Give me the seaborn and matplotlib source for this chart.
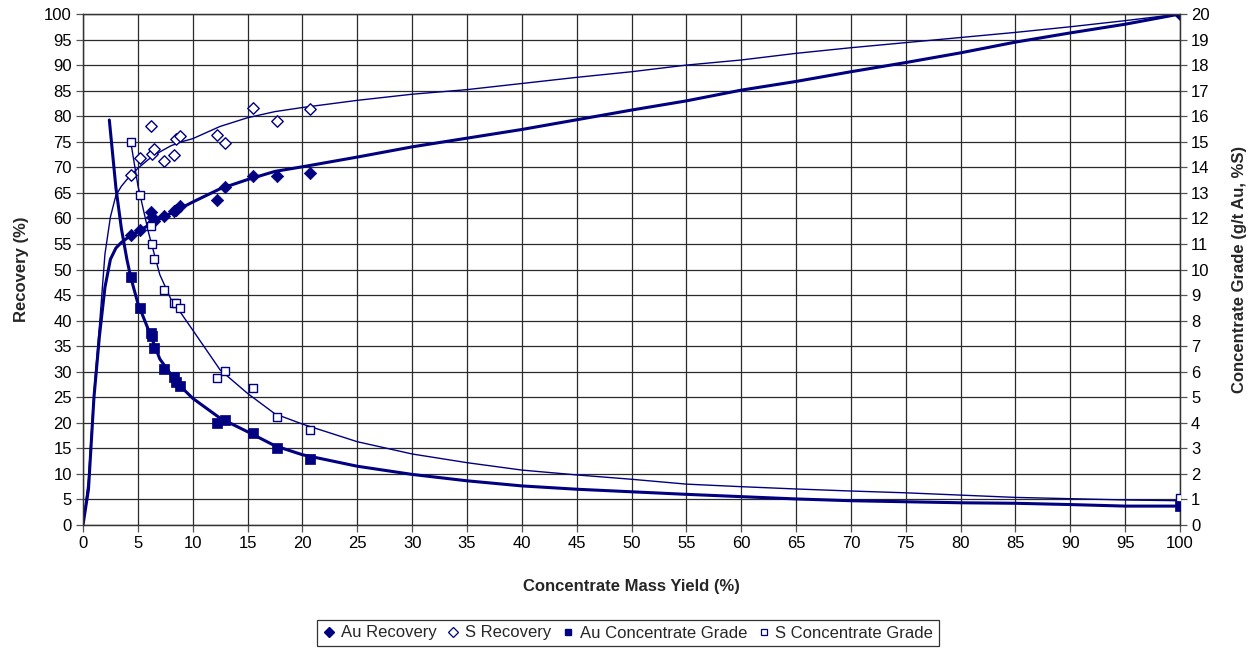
import matplotlib
matplotlib.use("Agg")
import matplotlib.pyplot as plt
import seaborn as sns
import pandas as pd
from matplotlib.lines import Line2D

# test data (concentrate mass yield, %)
yield_pts = [4.35, 5.2, 6.2, 6.3, 6.5, 7.4, 8.3, 8.5, 8.85, 12.2, 12.9, 15.5, 17.7, 20.7, 100]
au_recovery = [56.7, 57.7, 61.2, 60.2, 59.5, 60.5, 61.4, 61.7, 62.4, 63.6, 66.1, 68.2, 68.2, 68.9, 100]
s_recovery = [68.4, 71.9, 78.1, 72.6, 73.5, 71.2, 72.5, 75.5, 76.1, 76.3, 74.7, 81.7, 79.1, 81.4, 100]
au_grade = [9.7, 8.5, 7.5, 7.4, 6.94, 6.12, 5.78, 5.6, 5.45, 4.0, 4.1, 3.6, 3.0, 2.6, 0.74]
s_grade = [15.0, 12.9, 11.7, 11.0, 10.4, 9.2, 8.7, 8.68, 8.5, 5.76, 6.02, 5.36, 4.24, 3.72, 1.06]

# fitted curves
rec_x = [0, 0.5, 1, 1.5, 2, 2.5, 3, 3.5, 4, 4.5, 5, 6, 7, 8, 9, 10, 12.5, 15, 17.5, 20,
         25, 30, 35, 40, 45, 50, 55, 60, 65, 70, 75, 80, 85, 90, 95, 100]
au_rec_fit = [0, 7, 25, 37, 46.5, 52, 54.2, 55.3, 56.1, 56.8, 57.4, 58.7, 59.9, 61.0, 62.1, 63.2,
              65.8, 67.6, 69.2, 70.1, 72.0, 74.0, 75.7, 77.4, 79.3, 81.2, 83.0, 85.1, 86.8, 88.7,
              90.5, 92.4, 94.5, 96.3, 98.0, 100]
s_rec_fit = [0, 9, 26, 39, 53, 60.3, 64.5, 66.3, 67.6, 68.7, 69.8, 71.6, 73.0, 74.2, 75.0, 75.6,
             78.0, 79.7, 80.9, 81.7, 83.1, 84.3, 85.2, 86.4, 87.6, 88.7, 90.0, 91.0, 92.3, 93.4,
             94.4, 95.4, 96.4, 97.5, 98.7, 100]

au_grade_x = [2.4, 3, 3.5, 4, 4.35, 5, 6, 7, 8, 9, 10, 12.5, 15, 17.5, 20, 25, 30, 35, 40, 45,
              50, 55, 60, 65, 70, 75, 80, 85, 90, 95, 100]
au_grade_fit = [15.85, 13.2, 11.6, 10.4, 9.7, 8.68, 7.6, 6.5, 5.9, 5.38, 4.96, 4.18, 3.65, 3.1,
                2.75, 2.3, 1.98, 1.73, 1.53, 1.4, 1.3, 1.2, 1.11, 1.02, 0.95, 0.91, 0.87, 0.85,
                0.8, 0.74, 0.74]
s_grade_x = [4.35, 5, 6, 7, 8, 9, 10, 12.5, 15, 17.5, 20, 25, 30, 35, 40, 45, 50, 55, 60, 65,
             70, 75, 80, 85, 90, 95, 100]
s_grade_fit = [15.0, 13.3, 11.4, 9.8, 8.85, 8.25, 7.63, 6.07, 5.15, 4.35, 3.95, 3.26, 2.78, 2.44,
               2.15, 1.96, 1.79, 1.6, 1.5, 1.41, 1.33, 1.26, 1.17, 1.08, 1.03, 0.98, 0.95]

NAVY = "#000080"

sns.set_theme(style="ticks")
plt.rcParams["font.family"] = ["Liberation Sans", "DejaVu Sans"]

fig = plt.figure(figsize=(12.52, 6.48), dpi=100)
ax = fig.add_axes([83 / 1252, 1 - 525 / 648, (1180 - 83) / 1252, (525 - 14) / 648])
ax2 = ax.twinx()

pts = pd.DataFrame({"yield": yield_pts, "au_rec": au_recovery, "s_rec": s_recovery,
                    "au_grade": au_grade, "s_grade": s_grade})
rec = pd.DataFrame({"x": rec_x, "au": au_rec_fit, "s": s_rec_fit})
aug = pd.DataFrame({"x": au_grade_x, "y": au_grade_fit})
sg = pd.DataFrame({"x": s_grade_x, "y": s_grade_fit})

# recovery (left axis)
sns.lineplot(data=rec, x="x", y="s", ax=ax, color=NAVY, lw=1.0, sort=False, estimator=None)
sns.lineplot(data=rec, x="x", y="au", ax=ax, color=NAVY, lw=2.2, sort=False, estimator=None)
sns.scatterplot(data=pts, x="yield", y="s_rec", ax=ax, marker="D", s=34, color="white",
                edgecolor=NAVY, linewidth=1.0, zorder=5)
sns.scatterplot(data=pts, x="yield", y="au_rec", ax=ax, marker="D", s=40, color=NAVY,
                edgecolor=NAVY, linewidth=0.5, zorder=5)

# grade (right axis)
sns.lineplot(data=sg, x="x", y="y", ax=ax2, color=NAVY, lw=1.0, sort=False, estimator=None)
sns.lineplot(data=aug, x="x", y="y", ax=ax2, color=NAVY, lw=2.2, sort=False, estimator=None)
sns.scatterplot(data=pts, x="yield", y="s_grade", ax=ax2, marker="s", s=36, color="white",
                edgecolor=NAVY, linewidth=1.0, zorder=5)
sns.scatterplot(data=pts, x="yield", y="au_grade", ax=ax2, marker="s", s=42, color=NAVY,
                edgecolor=NAVY, linewidth=0.5, zorder=5)

ax.set_xlim(0, 100)
ax.set_ylim(0, 100)
ax2.set_ylim(0, 20)
ax.set_xticks(range(0, 101, 5))
ax.set_yticks(range(0, 101, 5))
ax2.set_yticks(range(0, 21, 1))
ax.grid(True, color="#2a2a2a", lw=0.9)
ax.set_axisbelow(True)

for a in (ax, ax2):
    a.tick_params(axis="both", direction="out", length=5, width=0.9, color="#555555",
                  labelsize=12, colors="black", pad=3)
    for sp in a.spines.values():
        sp.set_color("#333333")
        sp.set_linewidth(0.9)

ax.set_xlabel("Concentrate Mass Yield (%)", fontsize=12, fontweight="bold", labelpad=20)
ax.set_ylabel("Recovery (%)", fontsize=12, fontweight="bold", labelpad=11)
ax2.set_ylabel("Concentrate Grade (g/t Au, %S)", fontsize=12, fontweight="bold", labelpad=16)

handles = [
    Line2D([], [], ls="none", marker="D", ms=4.8, mfc=NAVY, mec=NAVY),
    Line2D([], [], ls="none", marker="D", ms=4.8, mfc="white", mec=NAVY, mew=0.9),
    Line2D([], [], ls="none", marker="s", ms=4.8, mfc=NAVY, mec=NAVY),
    Line2D([], [], ls="none", marker="s", ms=4.8, mfc="white", mec=NAVY, mew=0.9),
]
labels = ["Au Recovery", "S Recovery", "Au Concentrate Grade", "S Concentrate Grade"]
leg = fig.legend(handles, labels, loc="center", bbox_to_anchor=(628 / 1252, 1 - 633 / 648),
                 ncol=4, frameon=True, fancybox=False, fontsize=12, handlelength=0.8,
                 handletextpad=0.3, columnspacing=0.6, borderpad=0.35)
leg.get_frame().set_edgecolor("black")
leg.get_frame().set_linewidth(0.9)

fig.savefig("out.png", dpi=100)
